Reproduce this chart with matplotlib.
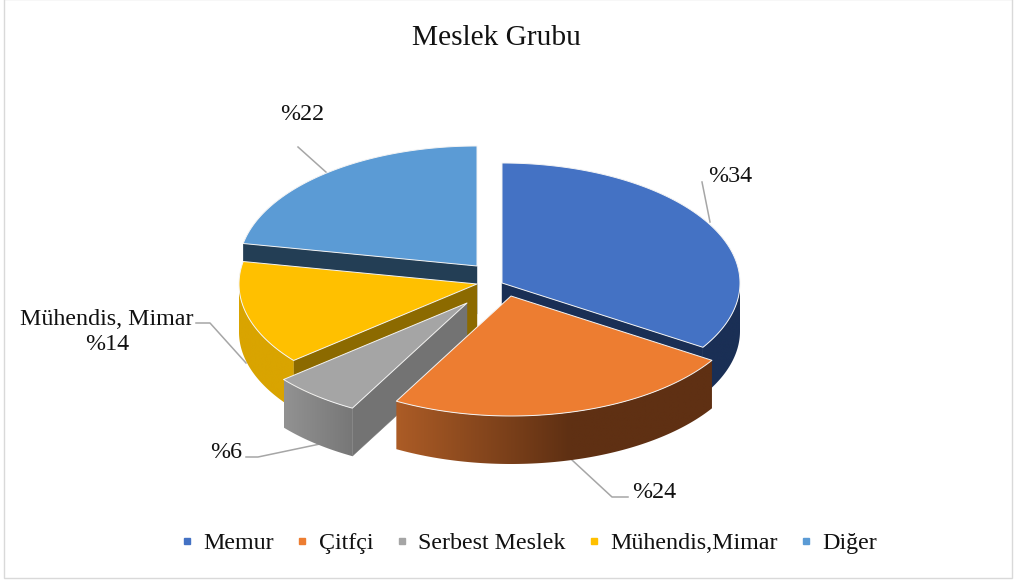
import numpy as np
import matplotlib
matplotlib.use("Agg")
import matplotlib.pyplot as plt
from matplotlib.patches import Polygon, Rectangle
from matplotlib.lines import Line2D
from matplotlib.colors import to_rgb

plt.rcParams['font.family'] = ['Liberation Serif', 'DejaVu Serif']

title = "Meslek Grubu"
categories = ["Memur", "Çitfçi", "Serbest Meslek", "Mühendis,Mimar", "Diğer"]
values = [34, 24, 6, 14, 22]
data_labels = ["%34", "%24", "%6", "Mühendis, Mimar\n%14", "%22"]
top_colors = ["#4472C4", "#ED7D31", "#A5A5A5", "#FFC000", "#5B9BD5"]

# styling / geometry of the exploded 3-D pie (pixel axes)
apex = [(502, 283), (511, 296), (467, 303), (477, 284), (477, 266)]
face_colors = ["#1A2F55", "#5F3013", "#737373", "#8C6A00", "#233E55"]
wall_left = ["#1A2F55", "#AC5C26", "#929292", "#D9A400", "#233E55"]
wall_right = ["#1A2F55", "#5F3013", "#777777", "#D9A400", "#233E55"]
wall_span = [1.0, 0.55, 1.0, 1.0, 1.0]
RX, RY, DEPTH = 238, 120, 48
draw_order = [4, 0, 3, 2, 1]
label_pos = [(730, 177), (654, 493), (226, 453), (107, 332), (302, 115)]
leaders = [
    [(702, 182), (710, 222)],
    [(572, 460), (612, 497), (628, 497)],
    [(246, 457), (258, 457), (320, 444)],
    [(196, 323), (210, 323), (246, 363)],
    [(298, 147), (327, 173)],
]

fig = plt.figure(figsize=(10.16, 5.82), dpi=100, facecolor="white")
ax = fig.add_axes([0, 0, 1, 1])
ax.set_xlim(0, 1016)
ax.set_ylim(582, 0)
ax.axis("off")

ax.add_patch(Rectangle((4, -1), 1008, 579, fc="white", ec="#D9D9D9", lw=1, zorder=0))

fractions = np.array(values, dtype=float) / sum(values)
ends = np.cumsum(fractions) * 2 * np.pi
starts = ends - fractions * 2 * np.pi


def rim(i, theta):
    cx, cy = apex[i]
    return cx + RX * np.sin(theta), cy - RY * np.cos(theta)


z = 2
for line in leaders:
    xs, ys = zip(*line)
    ax.plot(xs, ys, color="#A6A6A6", lw=1.1, zorder=1)

for i in draw_order:
    cx, cy = apex[i]
    t1, t2 = starts[i], ends[i]

    # visible cut faces
    for theta, visible in ((t1, np.sin(t1) < -1e-6), (t2, np.sin(t2) > 1e-6)):
        if visible:
            rx, ry = rim(i, theta)
            ax.add_patch(Polygon([(cx, cy), (rx, ry), (rx, ry + DEPTH), (cx, cy + DEPTH)],
                                 closed=True, fc=face_colors[i], ec=face_colors[i], lw=0.3, zorder=z))
            z += 1

    # outer wall, front half only, gradient image clipped to the wall outline
    a = max(t1, np.pi / 2)
    b = min(t2, 3 * np.pi / 2)
    if b > a:
        th = np.linspace(a, b, 80)
        xa, ya = rim(i, th)
        wall = np.array(list(zip(xa, ya)) + list(zip(xa[::-1], ya[::-1] + DEPTH)))
        left_x, right_x = xa.min(), xa.max()
        ramp = np.clip(np.linspace(0, 1, 256) / wall_span[i], 0, 1)[None, :, None]
        c0, c1 = np.array(to_rgb(wall_left[i])), np.array(to_rgb(wall_right[i]))
        img = c0[None, None, :] * (1 - ramp) + c1[None, None, :] * ramp
        patch = Polygon(wall, closed=True, fc="none", ec="none", transform=ax.transData)
        ax.add_patch(patch)
        im = ax.imshow(img, extent=(left_x, right_x, wall[:, 1].max(), wall[:, 1].min()),
                       aspect="auto", interpolation="bilinear", zorder=z)
        im.set_clip_path(patch)
        ax.set_xlim(0, 1016)
        ax.set_ylim(582, 0)
        z += 1

    # top face
    th = np.linspace(t1, t2, 120)
    xa, ya = rim(i, th)
    pts = [(cx, cy)] + list(zip(xa, ya))
    ax.add_patch(Polygon(pts, closed=True, fc=top_colors[i], ec="#F4F4F4", lw=0.7,
                         joinstyle="round", zorder=z))
    z += 1

ax.text(496, 38, title, ha="center", va="center", fontsize=21.2, color="#111111", zorder=z)
for (x, y), s in zip(label_pos, data_labels):
    ax.text(x, y, s, ha="center", va="center", fontsize=17.3, color="#111111",
            linespacing=1.3, zorder=z)

handles = [Line2D([], [], ls="none", marker="s", ms=4.5, mfc=c, mec=c) for c in top_colors]
ax.legend(handles, categories, loc="center", bbox_to_anchor=(529 / 1016, 1 - 543 / 582),
          ncol=5, frameon=False, fontsize=17.3, handlelength=0.5, handletextpad=0.42,
          columnspacing=0.94, labelcolor="#111111")

fig.savefig("out.png", dpi=100, facecolor="white")
